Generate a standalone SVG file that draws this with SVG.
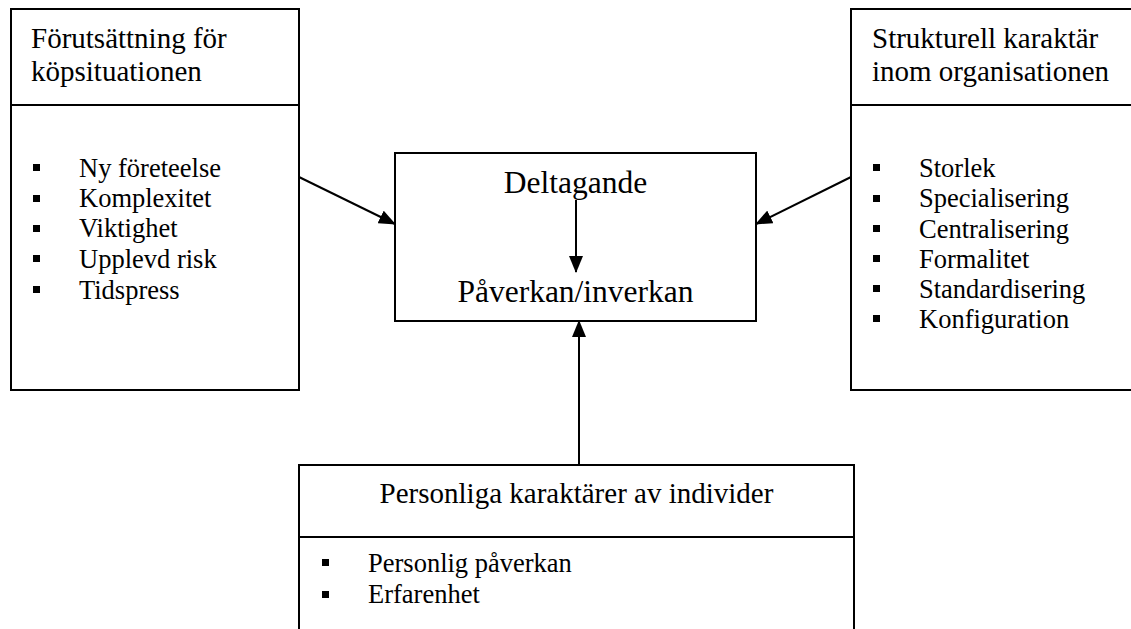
<svg xmlns="http://www.w3.org/2000/svg" width="1131" height="629" viewBox="0 0 1131 629">
<style>
.box{fill:#fff;stroke:#000;stroke-width:2}
.div{stroke:#000;stroke-width:2}
.h{font-family:"Liberation Serif","Times New Roman",serif;font-size:29px;fill:#000}
.c{font-family:"Liberation Serif","Times New Roman",serif;font-size:31.5px;fill:#000;text-anchor:middle}
.li{font-family:"Liberation Serif","Times New Roman",serif;font-size:26.5px;fill:#000}
.b{fill:#000}
.conn{stroke:#000;stroke-width:2;fill:none;marker-end:url(#ah)}
</style>
<defs>
<marker id="ah" markerUnits="userSpaceOnUse" markerWidth="17" markerHeight="14" viewBox="0 0 17 14" refX="16" refY="7" orient="auto">
<path d="M0,0 L17,7 L0,14 Z" fill="#000"/>
</marker>
</defs>
<rect width="1131" height="629" fill="#fff"/>
<g id="left">
<rect class="box" x="11" y="9" width="288" height="381"/>
<line class="div" x1="11" y1="105" x2="299" y2="105"/>
<text class="h" x="31" y="48">Förutsättning för</text>
<text class="h" x="31" y="81">köpsituationen</text>
<rect class="b" x="33" y="164" width="7" height="7"/>
<rect class="b" x="33" y="195" width="7" height="7"/>
<rect class="b" x="33" y="225" width="7" height="7"/>
<rect class="b" x="33" y="255" width="7" height="7"/>
<rect class="b" x="33" y="286" width="7" height="7"/>
<text class="li" x="79" y="177">Ny företeelse</text>
<text class="li" x="79" y="207">Komplexitet</text>
<text class="li" x="79" y="237">Viktighet</text>
<text class="li" x="79" y="268">Upplevd risk</text>
<text class="li" x="79" y="299">Tidspress</text>
</g>
<g id="right">
<rect class="box" x="851" y="9" width="290" height="381"/>
<line class="div" x1="851" y1="105" x2="1131" y2="105"/>
<text class="h" x="872" y="48">Strukturell karaktär</text>
<text class="h" x="872" y="81">inom organisationen</text>
<rect class="b" x="873" y="164" width="7" height="7"/>
<rect class="b" x="873" y="195" width="7" height="7"/>
<rect class="b" x="873" y="225" width="7" height="7"/>
<rect class="b" x="873" y="255" width="7" height="7"/>
<rect class="b" x="873" y="285" width="7" height="7"/>
<rect class="b" x="873" y="315" width="7" height="7"/>
<text class="li" x="919" y="177">Storlek</text>
<text class="li" x="919" y="207">Specialisering</text>
<text class="li" x="919" y="238">Centralisering</text>
<text class="li" x="919" y="268">Formalitet</text>
<text class="li" x="919" y="298">Standardisering</text>
<text class="li" x="919" y="328">Konfiguration</text>
</g>
<g id="center">
<rect class="box" x="395" y="153" width="361" height="168"/>
<text class="c" x="575.5" y="193">Deltagande</text>
<text class="c" x="575.5" y="302">Påverkan/inverkan</text>
</g>
<g id="bottom">
<rect class="box" x="299" y="465" width="555" height="180"/>
<line class="div" x1="299" y1="537" x2="854" y2="537"/>
<text class="h" x="576.5" y="503" text-anchor="middle">Personliga karaktärer av individer</text>
<rect class="b" x="322" y="559" width="7" height="7"/>
<rect class="b" x="322" y="591" width="7" height="7"/>
<text class="li" x="368" y="572">Personlig påverkan</text>
<text class="li" x="368" y="603">Erfarenhet</text>
</g>
<g id="connectors">
<line class="conn" x1="299" y1="177" x2="395" y2="224"/>
<line class="conn" x1="851" y1="177" x2="756" y2="224"/>
<line class="conn" x1="576" y1="200" x2="576" y2="272"/>
<line class="conn" x1="579" y1="464" x2="579" y2="321"/>
</g>
</svg>
